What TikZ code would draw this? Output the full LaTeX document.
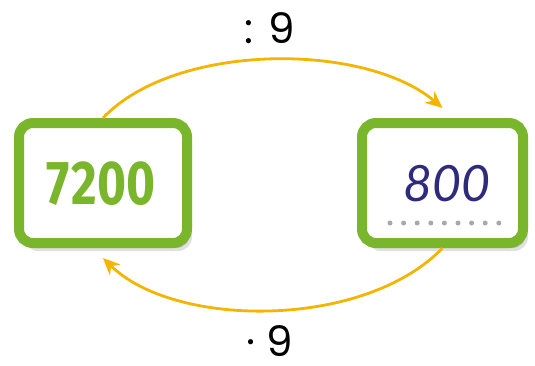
\documentclass[tikz,border=0pt]{standalone}
\usepackage{graphicx}
\usepackage{fontspec}
\setmainfont{Poppins}
\newfontfamily\tallfont{Fira Sans}
\newfontfamily\skrift{Lato}
\usetikzlibrary{arrows.meta,shadows}

\definecolor{boksgronn}{HTML}{7AB62B}
\definecolor{pilgul}{HTML}{F5B400}
\definecolor{blekk}{HTML}{2D2A80}
\definecolor{prikk}{HTML}{A8A8A8}

\begin{document}
\begin{tikzpicture}[x=1pt,y=-1pt,
    boks/.style={draw=boksgronn, line width=10pt, rounded corners=14pt, fill=white,
        minimum width=168pt, minimum height=120pt, inner sep=0pt,
        general shadow={shadow xshift=5pt, shadow yshift=-8pt, opacity=0.12, fill=black},
        general shadow={shadow xshift=3pt, shadow yshift=-5pt, opacity=0.18, fill=black}},
    pil/.style={draw=pilgul, line width=2.8pt, -{Stealth[length=17pt,width=15pt]}},
    tekst/.style={font=\fontsize{42}{42}\selectfont, anchor=base, inner sep=0pt}]
    \useasboundingbox (0,0) rectangle (535,365);
    % boksene
    \node[boks] (venstre) at (103,183) {};
    \node[boks, minimum width=161pt] (hoyre) at (442.5,183) {};
    \node[text=boksgronn, font=\tallfont\bfseries\fontsize{62}{62}\selectfont] (tall) at (101,184) {\scalebox{0.8}[1]{7\kern3pt200}};
    \node[text=blekk, font=\skrift\itshape\fontsize{50}{50}\selectfont] (svar) at (447,184) {800};
    \foreach \i in {0,...,8}
        \fill[prikk] (390+\i*13.6,223) circle (2.5pt); % prikkene under svaret
    % pilene
    \draw[pil] (venstre.north) .. controls (175,42) and (365,42) .. ([yshift=10pt]hoyre.north);
    \draw[pil] (hoyre.south) .. controls (365,329) and (175,329) .. ([yshift=-10pt]venstre.south);
    \node[tekst] (delt) at (270,43) {: 9};
    \node[tekst] (ganger) at (270,356) {· 9};
\end{tikzpicture}
\end{document}
